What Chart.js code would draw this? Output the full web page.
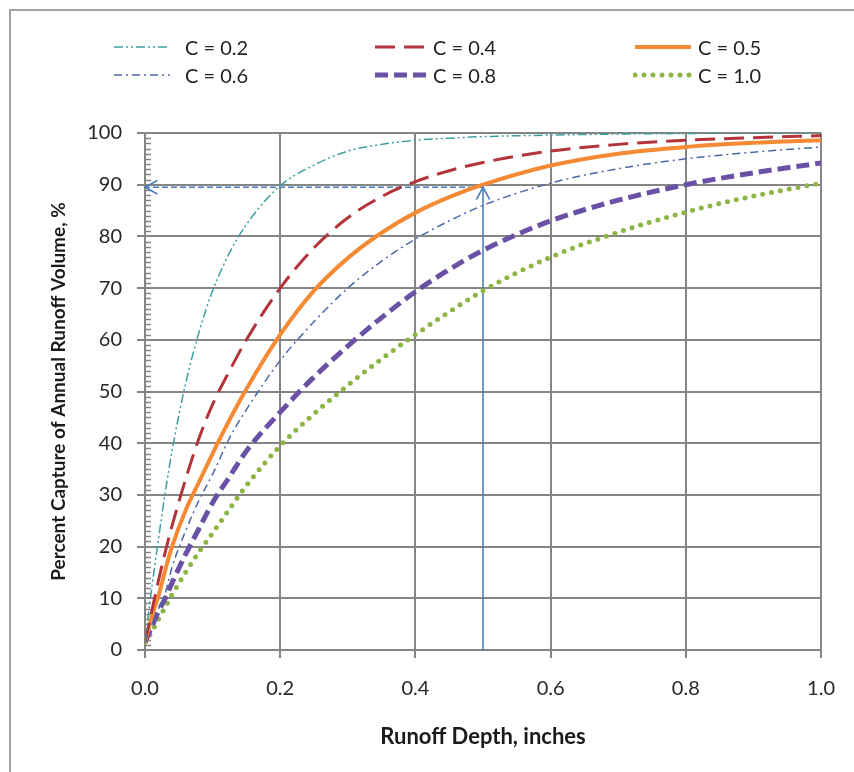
<!DOCTYPE html>
<html>
<head>
<meta charset="utf-8">
<title>Percent Capture of Annual Runoff Volume</title>
<script src="https://cdn.jsdelivr.net/npm/chart.js@4"></script>
<style>
    html, body { margin: 0; padding: 0; background: #fff; overflow: hidden; }
    body { width: 854px; height: 772px; position: relative; font-family: Lato, sans-serif; }
    #frame { position: absolute; left: 9px; top: 9px; width: 860px; height: 780px; border: 2px solid #a3a3a3; }
    #myChart { position: absolute; left: 0; top: 0; }
    .legend-sample { position: absolute; }
    .legend-text { position: absolute; font-size: 20px; line-height: 24px; color: #222; white-space: nowrap; }
</style>
</head>
<body>
<div id="frame"></div>
<canvas id="myChart" width="854" height="772"></canvas>
<div id="legend"></div>

<script>
// runoff depth (inches) where the curves were read
const depths = [0, 0.01, 0.02, 0.03, 0.04, 0.06, 0.08, 0.1, 0.125, 0.15, 0.2, 0.25, 0.3, 0.35, 0.4, 0.45, 0.5, 0.6, 0.7, 0.8, 0.9, 1.0];

// percent capture, one list per runoff coefficient
const captureC02 = [1.5, 12, 21.5, 30.5, 38.5, 51.5, 61.5, 69.5, 76.8, 82.3, 89.8, 93.8, 96.5, 97.8, 98.6, 99, 99.3, 99.6, 99.8, 99.9, 100, 100];
const captureC04 = [1.5, 7.5, 13.5, 19, 24, 33, 41, 47.5, 54, 60, 70, 77.8, 83.6, 87.7, 90.6, 92.7, 94.3, 96.5, 97.8, 98.6, 99.1, 99.5];
const captureC05 = [1.5, 6.5, 10.5, 15.5, 20, 27, 32.5, 38, 44.5, 50.5, 61, 69.5, 75.8, 80.7, 84.6, 87.6, 90, 93.7, 96, 97.3, 98.1, 98.6];
const captureC06 = [1.5, 5, 8, 11, 16, 23, 29, 34, 41, 46.5, 56, 63.5, 70, 75.2, 79.5, 83, 86, 90.3, 93.1, 95, 96.3, 97.3];
const captureC08 = [1.5, 4.5, 7.5, 10, 13, 18.5, 23.5, 28.5, 33.5, 38.5, 46, 52.8, 58.8, 64.3, 69.3, 73.6, 77.3, 83, 87, 90, 92.3, 94.2];
const captureC10 = [1.5, 3.5, 6, 8.3, 10.7, 15, 19, 22.6, 27.3, 31.8, 39.5, 45.7, 51.2, 56.3, 61, 65.4, 69.5, 76, 80.8, 84.7, 87.8, 90.3];

const seriesNames = ["C = 0.2", "C = 0.4", "C = 0.5", "C = 0.6", "C = 0.8", "C = 1.0"];
const seriesValues = [captureC02, captureC04, captureC05, captureC06, captureC08, captureC10];

// worked example: 0.5 in. of runoff depth -> 90 % capture
const arrowAcross = [{ x: 0.5, y: 89.5 }, { x: 0, y: 89.5 }];
const arrowUp = [{ x: 0.5, y: 0 }, { x: 0.5, y: 89.5 }];

const xTickValues = [0, 0.2, 0.4, 0.6, 0.8, 1.0];
const yTickValues = [0, 10, 20, 30, 40, 50, 60, 70, 80, 90, 100];

// line styles
const seriesColors = ["#3b9ea3", "#b3343b", "#f58a35", "#4a68a8", "#6a51a6", "#8db545"];
const seriesWidths = [1.5, 3, 4, 1.5, 5, 5];
const seriesDashes = [[9, 3, 2, 3, 2, 3], [20, 9], [], [8, 4, 2, 4], [13, 6], [0, 9]];
const seriesCaps = ["butt", "butt", "butt", "butt", "butt", "round"];
const arrowColor = "#4a7ebb";
const gridColor = "#858585";

Chart.defaults.font.family = "Lato";

// legend: 3 columns, 2 rows
function buildLegend() {
    const legend = document.getElementById("legend");
    const sampleLeft = [112, 373, 633];
    const textLeft = [185, 433, 698];
    const rowMiddle = [47, 75];

    seriesNames.forEach((name, i) => {
        const col = i % 3;
        const row = Math.floor(i / 3);
        const svgNs = "http://www.w3.org/2000/svg";
        const svg = document.createElementNS(svgNs, "svg");
        svg.setAttribute("class", "legend-sample");
        svg.setAttribute("width", "60");
        svg.setAttribute("height", "12");
        svg.style.left = sampleLeft[col] + "px";
        svg.style.top = (rowMiddle[row] - 6) + "px";
        const line = document.createElementNS(svgNs, "line");
        line.setAttribute("x1", "2");
        line.setAttribute("x2", "58");
        line.setAttribute("y1", "6");
        line.setAttribute("y2", "6");
        line.setAttribute("stroke", seriesColors[i]);
        line.setAttribute("stroke-width", seriesWidths[i]);
        line.setAttribute("stroke-linecap", seriesCaps[i]);
        if (seriesDashes[i].length) line.setAttribute("stroke-dasharray", seriesDashes[i].join(" "));
        svg.appendChild(line);
        legend.appendChild(svg);

        const text = document.createElement("div");
        text.className = "legend-text";
        text.textContent = name;
        text.style.left = textLeft[col] + "px";
        text.style.top = (rowMiddle[row] - 12) + "px";
        legend.appendChild(text);
    });
}

// small inside ticks every 1 % on the value axis
const minorTicks = {
    id: "minorTicks",
    beforeDatasetsDraw(chart) {
        const y = chart.scales.y;
        const ctx = chart.ctx;
        const left = chart.chartArea.left;
        ctx.save();
        ctx.strokeStyle = gridColor;
        ctx.lineWidth = 1.5;
        for (let v = y.min; v <= y.max; v++) {
            if (v % 10 === 0) continue;
            const py = Math.round(y.getPixelForValue(v)) + 0.5;
            ctx.beginPath();
            ctx.moveTo(left, py);
            ctx.lineTo(left + 6, py);
            ctx.stroke();
        }
        ctx.restore();
    }
};

// open arrow heads at the last point of the arrow lines
const arrowHeads = {
    id: "arrowHeads",
    afterDatasetsDraw(chart) {
        const ctx = chart.ctx;
        chart.data.datasets.forEach((ds, i) => {
            if (!ds.isArrow) return;
            const pts = chart.getDatasetMeta(i).data;
            const tip = pts[pts.length - 1];
            const prev = pts[pts.length - 2];
            const ang = Math.atan2(tip.y - prev.y, tip.x - prev.x);
            const len = 14;
            ctx.save();
            ctx.strokeStyle = ds.borderColor;
            ctx.lineWidth = 1.6;
            ctx.setLineDash([]);
            ctx.beginPath();
            ctx.moveTo(tip.x - len * Math.cos(ang - 0.5), tip.y - len * Math.sin(ang - 0.5));
            ctx.lineTo(tip.x, tip.y);
            ctx.lineTo(tip.x - len * Math.cos(ang + 0.5), tip.y - len * Math.sin(ang + 0.5));
            ctx.stroke();
            ctx.restore();
        });
    }
};

function makeDatasets() {
    const sets = seriesNames.map((name, i) => ({
        label: name,
        data: depths.map((d, k) => ({ x: d, y: seriesValues[i][k] })),
        borderColor: seriesColors[i],
        borderWidth: seriesWidths[i],
        borderDash: seriesDashes[i],
        borderCapStyle: seriesCaps[i],
        cubicInterpolationMode: "monotone",
        pointRadius: 0,
        fill: false
    }));
    sets.push({
        label: "arrow across",
        data: arrowAcross,
        borderColor: arrowColor,
        borderWidth: 1.6,
        borderDash: [6, 3],
        pointRadius: 0,
        isArrow: true
    });
    sets.push({
        label: "arrow up",
        data: arrowUp,
        borderColor: arrowColor,
        borderWidth: 1.6,
        pointRadius: 0,
        isArrow: true
    });
    return sets;
}

function drawChart() {
    const canvas = document.getElementById("myChart");
    new Chart(canvas, {
        type: "line",
        data: { datasets: makeDatasets() },
        options: {
            responsive: false,
            animation: false,
            devicePixelRatio: 1,
            layout: { padding: { top: 133, right: 32, bottom: 0, left: 0 } },
            plugins: {
                legend: { display: false },
                tooltip: { enabled: false }
            },
            scales: {
                x: {
                    type: "linear",
                    min: 0,
                    max: 1,
                    afterFit: s => { s.height = 122; },
                    afterBuildTicks: s => { s.ticks = xTickValues.map(v => ({ value: v })); },
                    grid: { color: gridColor, lineWidth: 2, tickLength: 8, tickColor: gridColor, tickWidth: 2 },
                    border: { color: gridColor, width: 2 },
                    ticks: {
                        padding: 19,
                        maxRotation: 0,
                        color: "#262626",
                        font: { size: 20 },
                        callback: v => Number(v).toFixed(1)
                    },
                    title: {
                        display: true,
                        text: "Runoff Depth, inches",
                        color: "#1a1a1a",
                        font: { size: 22, weight: "bold" },
                        padding: { top: 0, bottom: 22 }
                    }
                },
                y: {
                    min: 0,
                    max: 100,
                    afterFit: s => { s.width = 145; },
                    afterBuildTicks: s => { s.ticks = yTickValues.map(v => ({ value: v })); },
                    grid: { color: gridColor, lineWidth: 2, tickLength: 8, tickColor: gridColor, tickWidth: 2 },
                    border: { color: gridColor, width: 2 },
                    ticks: {
                        padding: 15,
                        color: "#262626",
                        font: { size: 20 }
                    },
                    title: {
                        display: true,
                        text: "Percent Capture of Annual Runoff Volume, %",
                        color: "#1a1a1a",
                        font: { size: 19, weight: "bold" },
                        padding: { top: 47, bottom: 0 }
                    }
                }
            }
        },
        plugins: [minorTicks, arrowHeads]
    });
}

buildLegend();
drawChart();
</script>
</body>
</html>
